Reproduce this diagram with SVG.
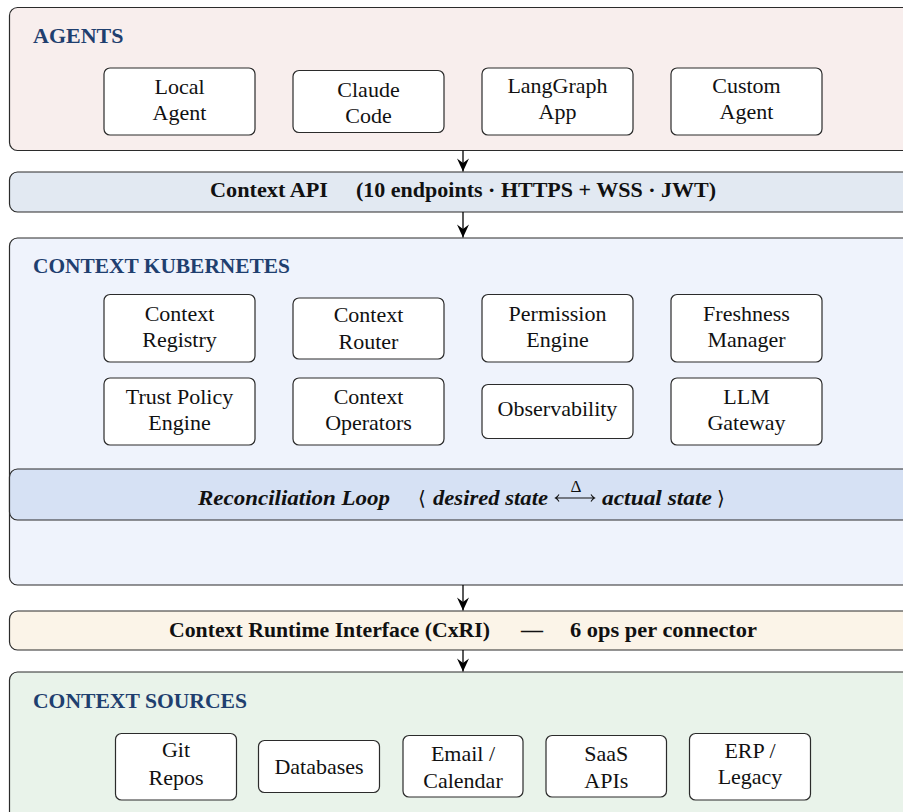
<svg xmlns="http://www.w3.org/2000/svg" width="903" height="812" viewBox="0 0 903 812">
<defs>
<marker id="ah" markerUnits="userSpaceOnUse" markerWidth="16" markerHeight="16" viewBox="-14 -8 16 16" refX="0" refY="0" orient="auto">
<path d="M0,0 L-13,-6 L-8.5,0 L-13,6 Z" fill="#000"/>
</marker>
</defs>
<style>
.layer{stroke:#2b2b2b;stroke-width:1.2}
.node rect{fill:#fff;stroke:#2b2b2b;stroke-width:1.2}
.lbl{font-family:"Liberation Serif","Times New Roman",serif;font-size:22px;fill:#111;text-anchor:middle}
.title{font-family:"Liberation Serif","Times New Roman",serif;font-size:22px;font-weight:bold;fill:#1f3f6f}
.bar{font-family:"Liberation Serif","Times New Roman",serif;font-size:22px;font-weight:bold;fill:#111}
.it{font-style:italic}
.conn{stroke:#000;stroke-width:1.3;fill:none}
</style>

<!-- layers -->
<g id="layer-agents">
<rect class="layer" x="9.5" y="7.5" width="920" height="143" rx="8" fill="#f8eeed"/>
<text class="title" x="33" y="43">AGENTS</text>
</g>
<g id="layer-api">
<rect class="layer" x="9.5" y="172" width="920" height="40" rx="8" fill="#e2e9f2"/>
<text class="bar" x="210" y="197" textLength="118" lengthAdjust="spacingAndGlyphs">Context API</text>
<text class="bar" x="356" y="197" textLength="360" lengthAdjust="spacingAndGlyphs">(10 endpoints · HTTPS + WSS · JWT)</text>
</g>
<g id="layer-k8s">
<rect class="layer" x="9.5" y="238" width="920" height="347" rx="8" fill="#eff3fc"/>
<text class="title" x="33" y="273" textLength="257" lengthAdjust="spacingAndGlyphs">CONTEXT KUBERNETES</text>
</g>
<g id="reconciliation-loop">
<rect class="layer" x="9.5" y="469" width="920" height="51" rx="8" fill="#d6e1f4"/>
<text class="bar it" x="198" y="505" textLength="192" lengthAdjust="spacingAndGlyphs">Reconciliation Loop</text>
<text class="bar" x="418" y="505" style="font-weight:normal;font-family:'DejaVu Serif',serif;font-size:20px">⟨</text>
<text class="bar it" x="433" y="505" textLength="115" lengthAdjust="spacingAndGlyphs">desired state</text>
<text x="576" y="492" style="font-family:'Liberation Serif',serif;font-size:17px;fill:#111;text-anchor:middle">Δ</text>
<path d="M556,498 L594,498 M559,494.5 Q557.5,497 555.5,498 Q557.5,499 559,501.5 M591,494.5 Q592.5,497 594.5,498 Q592.5,499 591,501.5" stroke="#111" stroke-width="1.1" fill="none"/>
<text class="bar it" x="602" y="505" textLength="110" lengthAdjust="spacingAndGlyphs">actual state</text>
<text class="bar" x="717" y="505" style="font-weight:normal;font-family:'DejaVu Serif',serif;font-size:20px">⟩</text>
</g>
<g id="layer-cxri">
<rect class="layer" x="9.5" y="611" width="920" height="39" rx="8" fill="#fbf4e8"/>
<text class="bar" x="169" y="637" textLength="321" lengthAdjust="spacingAndGlyphs">Context Runtime Interface (CxRI)</text>
<text class="bar" x="521" y="637">—</text>
<text class="bar" x="570" y="637" textLength="187" lengthAdjust="spacingAndGlyphs">6 ops per connector</text>
</g>
<g id="layer-sources">
<rect class="layer" x="9.5" y="672" width="920" height="160" rx="8" fill="#e9f3ea"/>
<text class="title" x="33" y="708" textLength="214" lengthAdjust="spacingAndGlyphs">CONTEXT SOURCES</text>
</g>

<!-- agents -->
<g id="local-agent" class="node"><rect x="104" y="68" width="151" height="67" rx="6"/><text class="lbl" x="179.5" y="94">Local</text><text class="lbl" x="179.5" y="119.5">Agent</text></g>
<g id="claude-code" class="node"><rect x="293" y="70.5" width="151" height="62" rx="6"/><text class="lbl" x="368.5" y="96.7">Claude</text><text class="lbl" x="368.5" y="122.7">Code</text></g>
<g id="langgraph-app" class="node"><rect x="482" y="68" width="151" height="67" rx="6"/><text class="lbl" x="557.5" y="93.3">LangGraph</text><text class="lbl" x="557.5" y="119.3">App</text></g>
<g id="custom-agent" class="node"><rect x="671" y="68" width="151" height="67" rx="6"/><text class="lbl" x="746.5" y="93.3">Custom</text><text class="lbl" x="746.5" y="119.3">Agent</text></g>

<!-- kubernetes components -->
<g id="context-registry" class="node"><rect x="104" y="294.5" width="151" height="67.5" rx="6"/><text class="lbl" x="179.5" y="320.7">Context</text><text class="lbl" x="179.5" y="346.7">Registry</text></g>
<g id="context-router" class="node"><rect x="293" y="298" width="151" height="61" rx="6"/><text class="lbl" x="368.5" y="322.3">Context</text><text class="lbl" x="368.5" y="349.3">Router</text></g>
<g id="permission-engine" class="node"><rect x="482" y="294.5" width="151" height="67.5" rx="6"/><text class="lbl" x="557.5" y="320.7">Permission</text><text class="lbl" x="557.5" y="346.7">Engine</text></g>
<g id="freshness-manager" class="node"><rect x="671" y="294.5" width="151" height="67.5" rx="6"/><text class="lbl" x="746.5" y="320.7">Freshness</text><text class="lbl" x="746.5" y="346.7">Manager</text></g>
<g id="trust-policy-engine" class="node"><rect x="104" y="378" width="151" height="67" rx="6"/><text class="lbl" x="179.5" y="404">Trust Policy</text><text class="lbl" x="179.5" y="430">Engine</text></g>
<g id="context-operators" class="node"><rect x="293" y="378" width="151" height="67" rx="6"/><text class="lbl" x="368.5" y="404">Context</text><text class="lbl" x="368.5" y="430">Operators</text></g>
<g id="observability" class="node"><rect x="482" y="384.5" width="151" height="54" rx="6"/><text class="lbl" x="557.5" y="416">Observability</text></g>
<g id="llm-gateway" class="node"><rect x="671" y="378" width="151" height="67" rx="6"/><text class="lbl" x="746.5" y="404">LLM</text><text class="lbl" x="746.5" y="430">Gateway</text></g>

<!-- sources -->
<g id="git-repos" class="node"><rect x="115.5" y="733.5" width="121" height="66.5" rx="6"/><text class="lbl" x="176" y="756.7">Git</text><text class="lbl" x="176" y="785">Repos</text></g>
<g id="databases" class="node"><rect x="258.5" y="740.5" width="121" height="52" rx="6"/><text class="lbl" x="319" y="774">Databases</text></g>
<g id="email-calendar" class="node"><rect x="403" y="735.5" width="120" height="61.5" rx="6"/><text class="lbl" x="463" y="760.7">Email /</text><text class="lbl" x="463" y="787.7">Calendar</text></g>
<g id="saas-apis" class="node"><rect x="546" y="735.5" width="120.5" height="61.5" rx="6"/><text class="lbl" x="606.3" y="760.7">SaaS</text><text class="lbl" x="606.3" y="787.7">APIs</text></g>
<g id="erp-legacy" class="node"><rect x="689.5" y="733.5" width="121" height="66.5" rx="6"/><text class="lbl" x="750" y="758.3">ERP /</text><text class="lbl" x="750" y="784.3">Legacy</text></g>

<!-- connectors -->
<g id="connectors">
<line class="conn" x1="463" y1="150.5" x2="463" y2="171.5" marker-end="url(#ah)"/>
<line class="conn" x1="463" y1="212" x2="463" y2="237.5" marker-end="url(#ah)"/>
<line class="conn" x1="463" y1="585" x2="463" y2="610.5" marker-end="url(#ah)"/>
<line class="conn" x1="463" y1="650" x2="463" y2="671.5" marker-end="url(#ah)"/>
</g>
</svg>
